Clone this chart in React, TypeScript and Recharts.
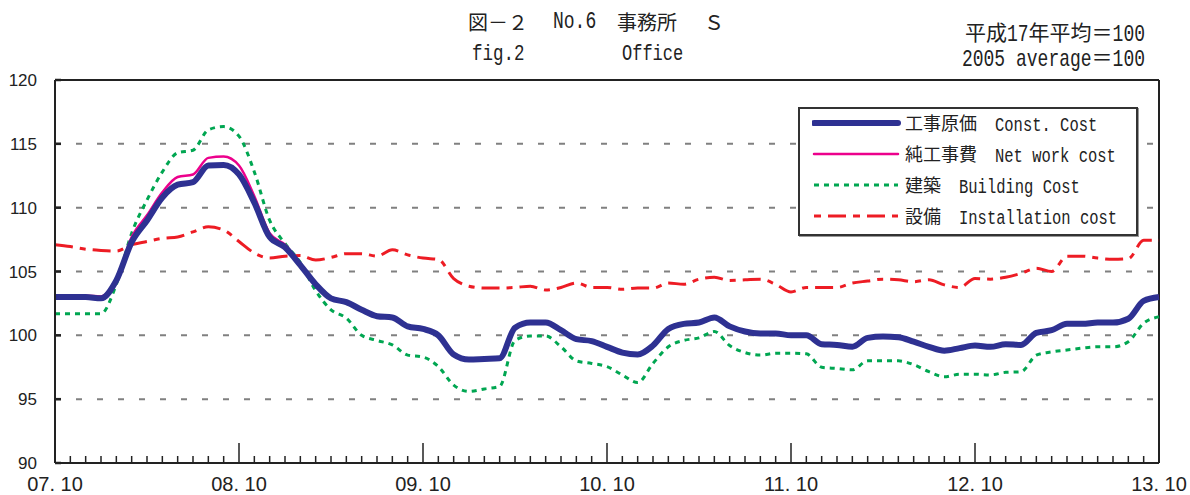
import React from 'react';
import {
  LineChart,
  Line,
  XAxis,
  YAxis,
  CartesianGrid,
  ReferenceLine,
} from 'recharts';

// monthly points from 07.10 to 13.10
const months: string[] = [];
for (let k = 0; k <= 72; k++) {
  const m = ((9 + k) % 12) + 1;
  const y = 7 + Math.floor((9 + k) / 12);
  months.push(`${String(y).padStart(2, '0')}.${String(m).padStart(2, '0')}`);
}

const yTicks = [90, 95, 100, 105, 110, 115, 120];

const constCost = [
  103.0, 103.0, 103.0, 102.9, 104.3, 107.3, 109.0, 110.8, 111.8, 112.0,
  113.3, 113.35, 112.6, 110.4, 107.7, 106.9, 105.5, 104.0, 102.9, 102.6,
  102.0, 101.5, 101.4, 100.7, 100.5, 100.0, 98.5, 98.1, 98.15, 98.2,
  100.6, 101.0, 101.0, 100.4, 99.7, 99.55, 99.1, 98.65, 98.5, 99.2,
  100.5, 100.9, 101.0, 101.4, 100.7, 100.3, 100.15, 100.15, 100.0, 100.0,
  99.3, 99.25, 99.1, 99.8, 99.9, 99.85, 99.5, 99.1, 98.8, 99.0,
  99.2, 99.1, 99.3, 99.25, 100.2, 100.4, 100.9, 100.9, 101.0, 101.0,
  101.3, 102.7, 103.0,
];

const netWork = [
  103.1, 103.1, 103.1, 103.05, 104.4, 107.7, 109.4, 111.2, 112.4, 112.6,
  113.9, 114.0, 113.3, 110.9, 108.0, 107.1, 105.6, 104.1, 103.0, 102.65,
  102.05, 101.55, 101.45, 100.75, 100.55, 100.05, 98.55, 98.15, 98.2, 98.25,
  100.65, 101.05, 101.05, 100.45, 99.75, 99.6, 99.15, 98.7, 98.55, 99.25,
  100.55, 100.95, 101.05, 101.45, 100.75, 100.35, 100.2, 100.2, 100.05, 100.05,
  99.35, 99.3, 99.15, 99.85, 99.95, 99.9, 99.55, 99.15, 98.85, 99.05,
  99.25, 99.15, 99.35, 99.3, 100.25, 100.45, 100.95, 100.95, 101.05, 101.05,
  101.35, 102.75, 103.05,
];

const building = [
  101.7, 101.7, 101.7, 101.7, 104.0, 108.0, 110.6, 112.8, 114.3, 114.5,
  116.1, 116.35, 115.6, 112.8, 109.0, 107.2, 105.7, 103.5, 102.0, 101.35,
  100.0, 99.6, 99.25, 98.45, 98.3, 97.55, 96.1, 95.6, 95.8, 96.0,
  99.6, 99.95, 99.95, 99.1, 98.0, 97.8, 97.55, 96.9, 96.3, 97.8,
  99.1, 99.6, 99.8, 100.3, 99.2, 98.65, 98.45, 98.6, 98.6, 98.55,
  97.5, 97.4, 97.3, 98.0, 98.0, 98.0, 97.7, 97.15, 96.75, 96.95,
  96.95, 96.9, 97.1, 97.15, 98.45, 98.7, 98.85, 99.0, 99.1, 99.1,
  99.5, 100.95, 101.45,
];

const installation = [
  107.1, 106.95, 106.75, 106.65, 106.6, 107.1, 107.35, 107.6, 107.7, 108.1,
  108.5, 108.25, 107.35, 106.45, 106.05, 106.2, 106.25, 105.9, 106.1, 106.4,
  106.4, 106.2, 106.7, 106.3, 106.05, 105.95, 104.45, 103.85, 103.7, 103.7,
  103.75, 103.85, 103.55, 103.75, 104.1, 103.75, 103.75, 103.6, 103.7, 103.7,
  104.1, 104.0, 104.4, 104.55, 104.3, 104.35, 104.4, 104.0, 103.4, 103.75,
  103.75, 103.75, 104.1, 104.25, 104.4, 104.35, 104.2, 104.35, 103.95, 103.75,
  104.45, 104.4, 104.55, 104.85, 105.25, 105.0, 106.2, 106.2, 106.05, 105.95,
  106.0, 107.45, 107.45,
];

const data = months.map((month, i) => ({
  month,
  constCost: constCost[i],
  netWork: netWork[i],
  building: building[i],
  installation: installation[i],
}));

const NAVY = '#2E3192';
const MAGENTA = '#EC008C';
const GREEN = '#00A651';
const RED = '#ED1C24';

const NUM_FONT = '"Liberation Sans Narrow", "Liberation Sans", Arial, sans-serif';
const MONO = '"Liberation Mono", monospace';
const CJK = '"Noto Sans CJK JP", sans-serif';

// half-width latin text, stretched a bit to look like the tall gothic of the original
const Mono = ({ size, children }: { size: number; children: React.ReactNode }) => (
  <span
    style={{
      display: 'inline-block',
      fontFamily: MONO,
      fontSize: size,
      transform: 'scaleY(1.3)',
      transformOrigin: '50% 60%',
    }}
  >
    {children}
  </span>
);

const XTick = (props: any) => {
  const { x, y, payload } = props;
  const major = String(payload.value).endsWith('.10');
  return (
    <g>
      <line x1={x} y1={y} x2={x} y2={y - (major ? 20 : 7)} stroke="#222" strokeWidth={1.5} />
      {major && (
        <text x={x} y={y + 28} textAnchor="middle" fontFamily={NUM_FONT} fontSize={20} fill="#222">
          {String(payload.value).replace('.', '. ')}
        </text>
      )}
    </g>
  );
};

const YTick = (props: any) => {
  const { x, y, payload } = props;
  return (
    <g>
      <line x1={x} y1={y} x2={x + 6} y2={y} stroke="#222" strokeWidth={2.5} />
      <text x={x - 18} y={y + 6} textAnchor="end" fontFamily={NUM_FONT} fontSize={17} fill="#222">
        {payload.value}
      </text>
    </g>
  );
};

const legendItems = [
  { cjk: '工事原価　', en: 'Const. Cost', color: NAVY, width: 6, dash: undefined },
  { cjk: '純工事費　', en: 'Net work cost', color: MAGENTA, width: 2.5, dash: undefined },
  { cjk: '建築　', en: 'Building Cost', color: GREEN, width: 3, dash: '5 5' },
  { cjk: '設備　', en: 'Installation cost', color: RED, width: 3, dash: '7 7 18 7' },
];

const abs = (left: number, top: number): React.CSSProperties => ({
  position: 'absolute',
  left,
  top,
  lineHeight: 1,
  whiteSpace: 'pre',
  color: '#222',
});

export default function App() {
  return (
    <div style={{ position: 'absolute', left: 0, top: 0, width: 1190, height: 495, background: '#fff' }}>
      <LineChart
        width={1190}
        height={495}
        data={data}
        margin={{ top: 80, right: 31, left: 0, bottom: 0 }}
      >
        <CartesianGrid
          vertical={false}
          stroke="#808080"
          strokeWidth={2}
          strokeDasharray="6 15"
        />
        <XAxis
          dataKey="month"
          interval={0}
          height={32}
          tickSize={0}
          tickMargin={0}
          tickLine={false}
          tick={<XTick />}
          axisLine={{ stroke: '#222', strokeWidth: 2 }}
        />
        <YAxis
          domain={[90, 120]}
          ticks={yTicks}
          width={55}
          tickSize={0}
          tickMargin={0}
          tickLine={false}
          tick={<YTick />}
          axisLine={{ stroke: '#222', strokeWidth: 2 }}
          allowDataOverflow
        />
        <ReferenceLine y={120} stroke="#222" strokeWidth={2} />
        <ReferenceLine x="13.10" stroke="#222" strokeWidth={2} />
        <Line
          type="monotone"
          dataKey="installation"
          stroke={RED}
          strokeWidth={3}
          strokeDasharray="18 7 6 7"
          dot={false}
          isAnimationActive={false}
        />
        <Line
          type="monotone"
          dataKey="building"
          stroke={GREEN}
          strokeWidth={3}
          strokeDasharray="5 5"
          dot={false}
          isAnimationActive={false}
        />
        <Line
          type="monotone"
          dataKey="netWork"
          stroke={MAGENTA}
          strokeWidth={2.5}
          dot={false}
          isAnimationActive={false}
        />
        <Line
          type="monotone"
          dataKey="constCost"
          stroke={NAVY}
          strokeWidth={6}
          strokeLinejoin="round"
          dot={false}
          isAnimationActive={false}
        />
      </LineChart>

      {/* titles */}
      <div style={{ ...abs(468, 12), fontFamily: CJK, fontSize: 20 }}>図－２</div>
      <div style={{ ...abs(553, 13) }}><Mono size={18}>No.6</Mono></div>
      <div style={{ ...abs(617, 12), fontFamily: CJK, fontSize: 20 }}>事務所</div>
      <div style={{ ...abs(704, 12), fontFamily: CJK, fontSize: 20 }}>Ｓ</div>
      <div style={{ ...abs(472, 46) }}><Mono size={17.5}>fig.2</Mono></div>
      <div style={{ ...abs(622, 46) }}><Mono size={17}>Office</Mono></div>

      <div style={{ ...abs(0, 21), width: 1145, textAlign: 'right' }}>
        <span style={{ fontFamily: CJK, fontSize: 21 }}>平成</span>
        <Mono size={18}>17</Mono>
        <span style={{ fontFamily: CJK, fontSize: 21 }}>年平均＝</span>
        <Mono size={18}>100</Mono>
      </div>
      <div style={{ ...abs(0, 46), width: 1145, textAlign: 'right' }}>
        <Mono size={18}>2005 average</Mono>
        <span style={{ fontFamily: CJK, fontSize: 21 }}>＝</span>
        <Mono size={18}>100</Mono>
      </div>

      {/* legend */}
      <div
        style={{
          position: 'absolute',
          left: 798,
          top: 107,
          width: 336,
          height: 125,
          border: '2px solid #333',
          background: '#fff',
          boxShadow: '1px 1px 0 #999',
        }}
      >
        {legendItems.map((it, i) => (
          <div key={it.en} style={{ position: 'absolute', left: 0, top: 3 + i * 31, height: 22, width: 336 }}>
            <svg width={90} height={22} style={{ position: 'absolute', left: 12, top: 0 }}>
              <line
                x1={2}
                y1={11}
                x2={86}
                y2={11}
                stroke={it.color}
                strokeWidth={it.width}
                strokeDasharray={it.dash}
                strokeLinecap={it.dash ? 'butt' : 'round'}
              />
            </svg>
            <div style={{ ...abs(105, 1) }}>
              <span style={{ fontFamily: CJK, fontSize: 18 }}>{it.cjk}</span>
              <Mono size={15.5}>{it.en}</Mono>
            </div>
          </div>
        ))}
      </div>
    </div>
  );
}
